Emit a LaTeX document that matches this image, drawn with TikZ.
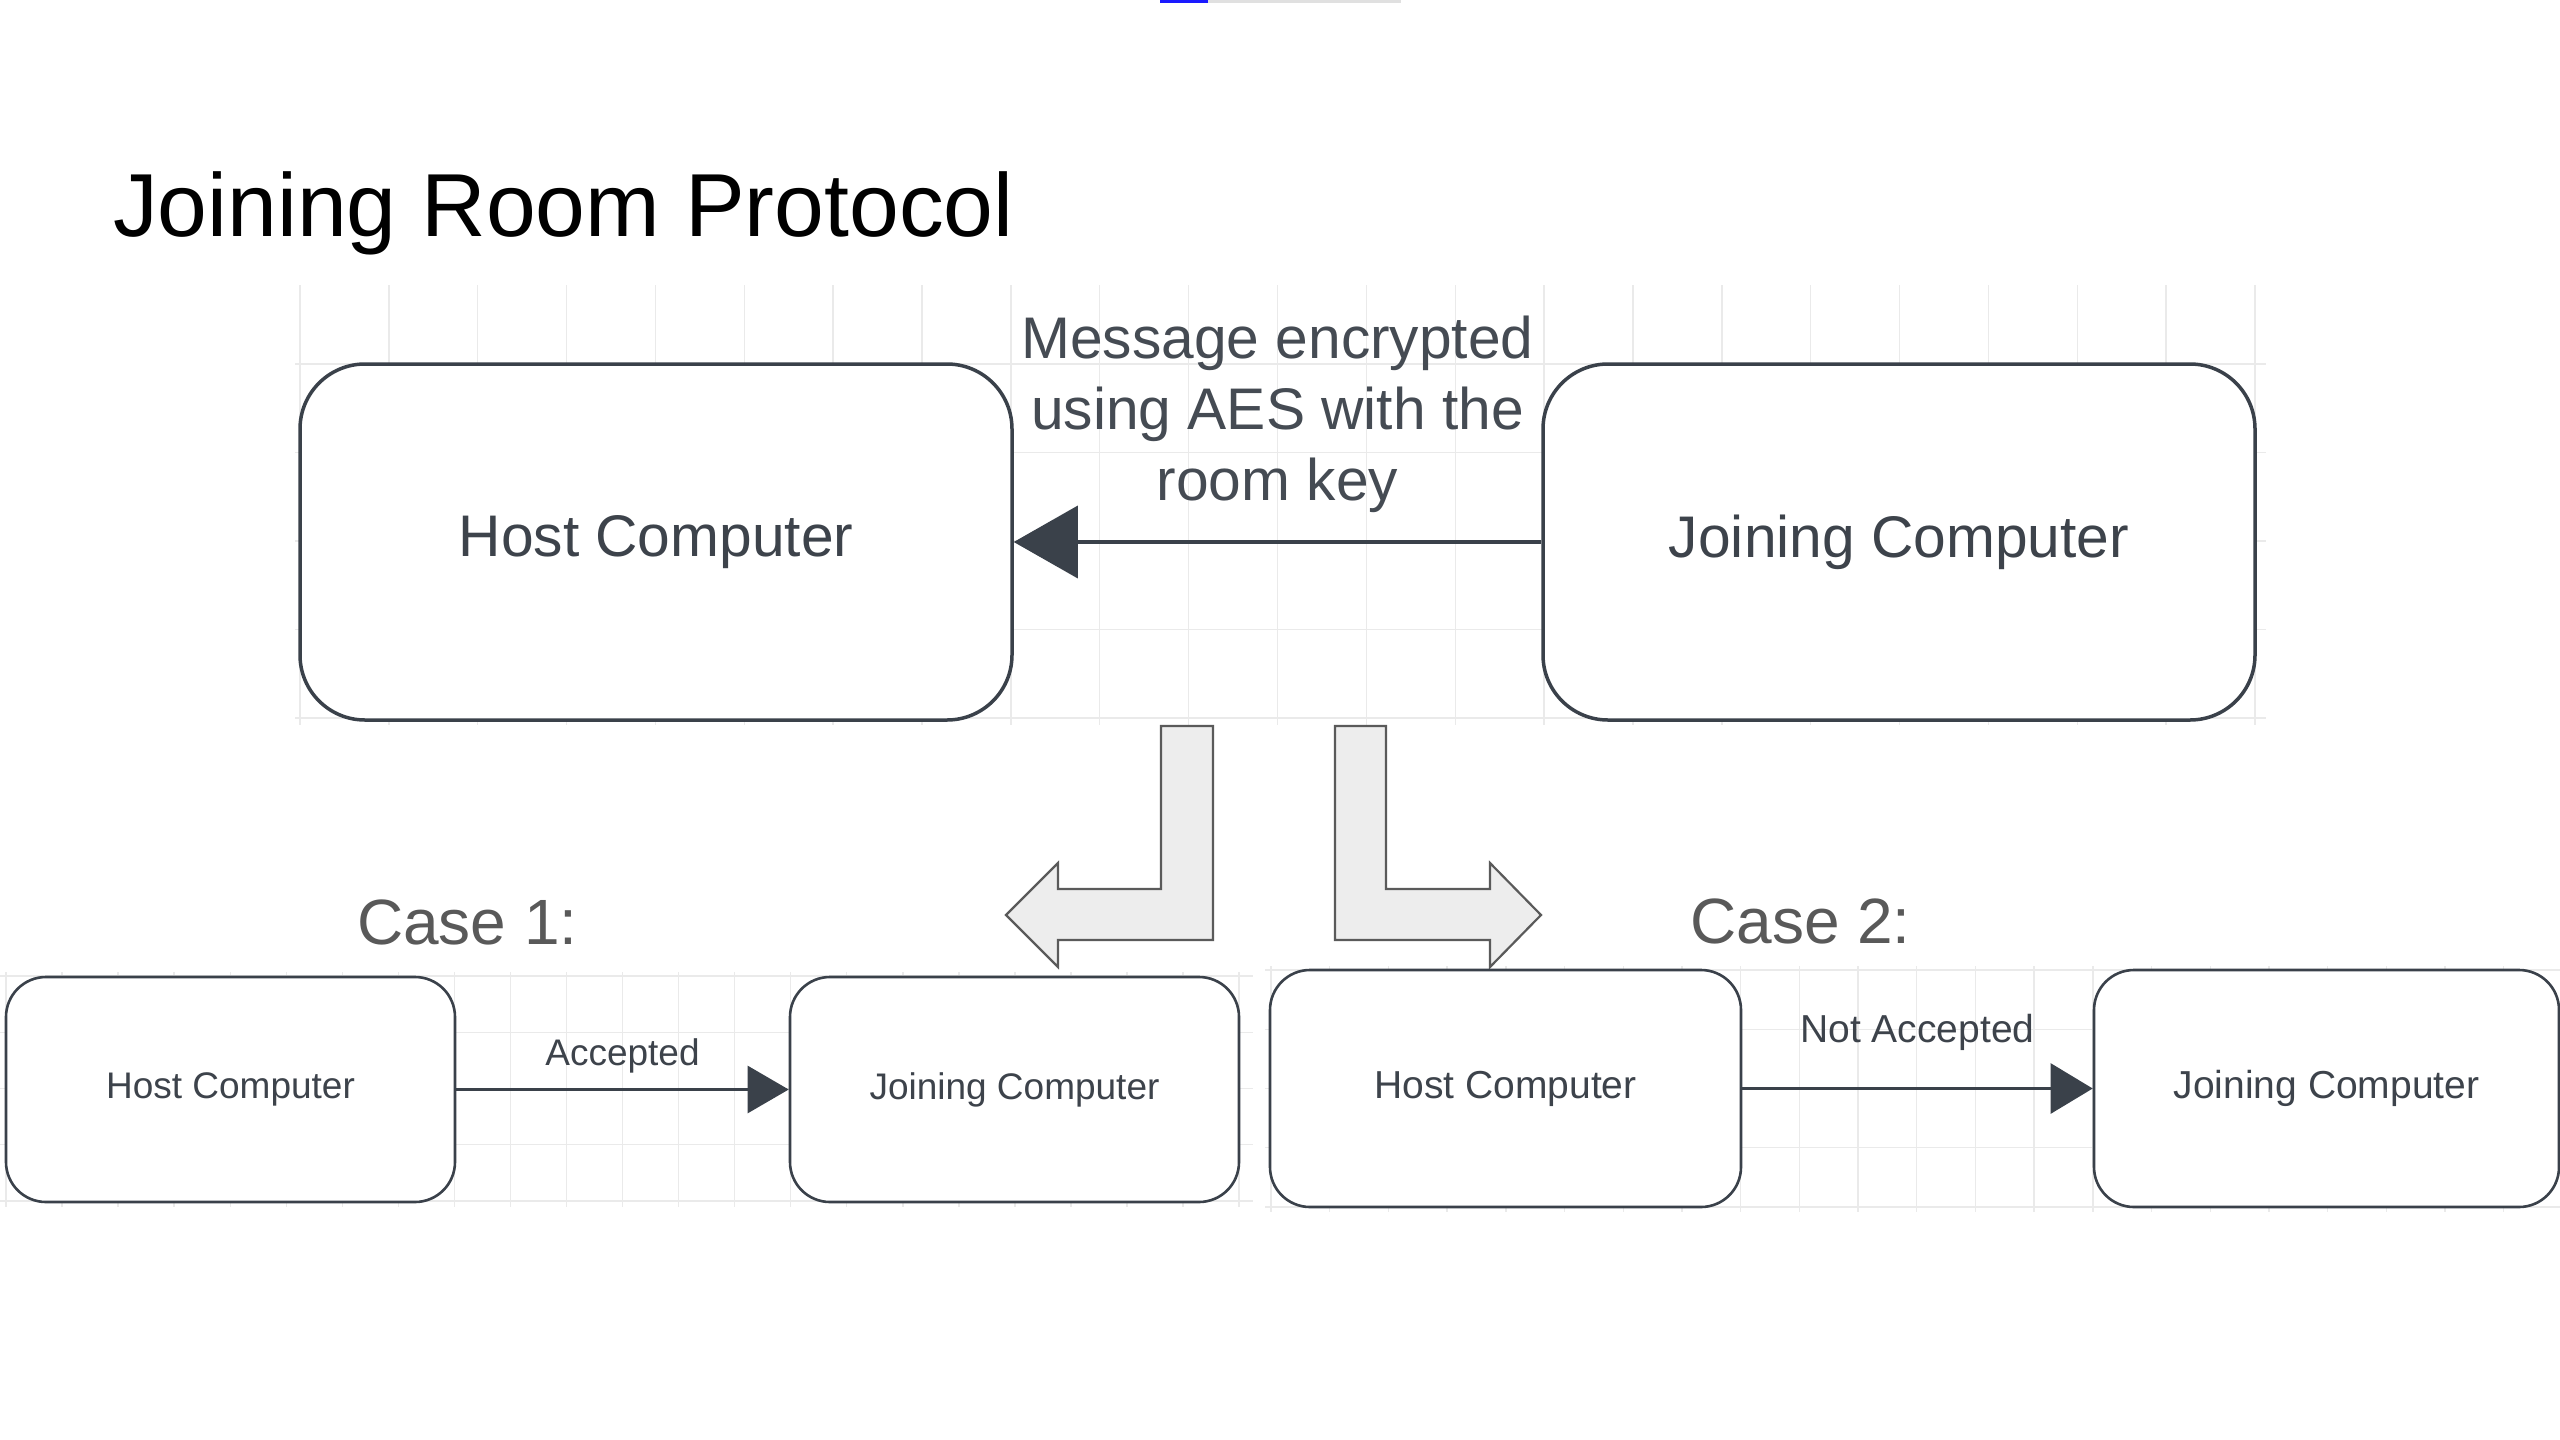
\documentclass[tikz,border=0pt]{standalone}
\usepackage{fontspec}
\setmainfont{Liberation Sans}
\usetikzlibrary{arrows.meta}
\definecolor{boxc}{HTML}{3A414A}
\definecolor{txtc}{HTML}{3D434B}
\definecolor{msgc}{HTML}{454B53}
\definecolor{gridc}{HTML}{EAEAEA}
\definecolor{casec}{HTML}{595959}
\definecolor{bentfill}{HTML}{EDEDED}
\definecolor{bentline}{HTML}{5A5A5A}
\definecolor{barblue}{HTML}{1A1AFF}
\definecolor{bargray}{HTML}{E0E0E0}
\tikzset{
  gridline/.style={draw=gridc, line width=1.4pt},
  bigbox/.style={draw=boxc, fill=white, line width=3.5pt, rounded corners=65pt,
    minimum width=712pt, minimum height=356pt, inner sep=0pt, text=txtc,
    font=\fontsize{58.7pt}{71pt}\selectfont},
  smallL/.style={draw=boxc, fill=white, line width=2.6pt, rounded corners=40pt,
    minimum width=449pt, minimum height=225pt, inner sep=0pt, text=txtc,
    font=\fontsize{37pt}{44pt}\selectfont},
  smallR/.style={draw=boxc, fill=white, line width=2.6pt, rounded corners=40pt,
    minimum height=237pt, inner sep=0pt, text=txtc,
    font=\fontsize{39pt}{46pt}\selectfont},
  bigarrow/.style={draw=boxc, line width=3.5pt, -{Triangle[length=64pt,width=72pt]}},
  smallarrowL/.style={draw=boxc, line width=2.6pt, -{Triangle[length=41pt,width=47pt]}},
  smallarrowR/.style={draw=boxc, line width=2.6pt, -{Triangle[length=42pt,width=50pt]}},
  msglbl/.style={inner sep=0pt, text=msgc, align=center, font=\fontsize{58.7pt}{71pt}\selectfont},
  lblL/.style={inner sep=0pt, text=txtc, font=\fontsize{37pt}{44pt}\selectfont},
  lblR/.style={inner sep=0pt, text=txtc, font=\fontsize{39pt}{46pt}\selectfont},
  caselbl/.style={inner sep=0pt, text=casec, font=\fontsize{64pt}{76pt}\selectfont},
  bentarrow/.style={fill=bentfill, draw=bentline, line width=2.2pt, line join=miter},
}
\begin{document}
\begin{tikzpicture}[x=1pt,y=-1pt]
\path[use as bounding box, fill=white] (0,0) rectangle (2560,1440);
% top progress bar
\fill[barblue] (1160,0) rectangle (1208,2.5);
\fill[bargray] (1208,0) rectangle (1401,2.5);
% title
\node[anchor=base west, inner sep=0pt, font=\fontsize{89.5pt}{100pt}\selectfont] (title) at (113,236) {Joining Room Protocol};
% grids
\foreach \k in {0,...,22} \draw[gridline] ({300+88.864*\k},285) -- ({300+88.864*\k},725);
\foreach \k in {0,...,4} \draw[gridline] (295,{364+88.5*\k}) -- (2266,{364+88.5*\k});
\foreach \k in {0,...,22} \draw[gridline] ({6+56.05*\k},972) -- ({6+56.05*\k},1207);
\foreach \k in {0,...,4} \draw[gridline] (0,{976+56.25*\k}) -- (1253,{976+56.25*\k});
\foreach \k in {0,...,21} \draw[gridline] ({1271+58.7*\k},966) -- ({1271+58.7*\k},1212);
\foreach \k in {0,...,4} \draw[gridline] (1265,{970+59.25*\k}) -- (2560,{970+59.25*\k});
% top boxes
\node[bigbox] (hb) at (656,542) {Host Computer};
\node[bigbox] (jb) at (1899,542) {Joining Computer};
\draw[bigarrow] (jb.west) -- node[msglbl, midway, anchor=south, yshift=28pt] (msg) {Message encrypted\\using AES with the\\room key} (hb.east);
% bent arrows
\draw[bentarrow] (1161,726) -- (1161,889) -- (1058,889) -- (1058,863) -- (1006,915) -- (1058,967) -- (1058,940) -- (1213,940) -- (1213,726) -- cycle;
\draw[bentarrow] (1335,726) -- (1335,940) -- (1490,940) -- (1490,967) -- (1541,915) -- (1490,863) -- (1490,889) -- (1386,889) -- (1386,726) -- cycle;
% case labels
\node[caselbl, anchor=base west] (case1) at (357,944) {Case 1:};
\node[caselbl, anchor=base west] (case2) at (1690,943) {Case 2:};
% case 1
\node[smallL] (h1) at (230.5,1089.5) {Host Computer};
\node[smallL] (j1) at (1014.5,1089.5) {Joining Computer};
\draw[smallarrowL] (h1.east) -- node[lblL, midway, anchor=base, yshift=24pt] (acc) {Accepted} (j1.west);
% case 2
\node[smallR, minimum width=471pt] (h2) at (1505.5,1088.5) {Host Computer};
\node[smallR, minimum width=465pt] (j2) at (2326.5,1088.5) {Joining Computer};
\draw[smallarrowR] (h2.east) -- node[lblR, midway, anchor=base, yshift=46pt] (nacc) {Not Accepted} (j2.west);
\end{tikzpicture}
\end{document}
